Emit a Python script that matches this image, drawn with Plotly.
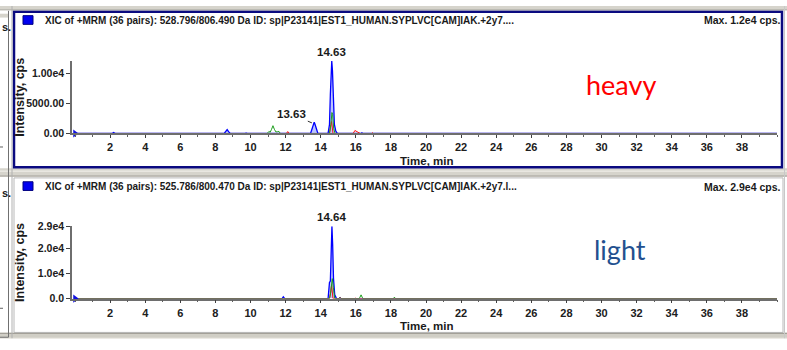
import plotly.graph_objects as go

W, H = 787, 350

# ---------------- data ----------------
x_tickvals = [2, 4, 6, 8, 10, 12, 14, 16, 18, 20, 22, 24, 26, 28, 30, 32, 34, 36, 38]
x_ticktext = [str(v) for v in x_tickvals]

heavy_y_tickvals = [0, 5000, 10000]
heavy_y_ticktext = ["0.00", "5000.00", "1.00e4"]
light_y_tickvals = [0, 10000, 20000, 29000]
light_y_ticktext = ["0.0", "1.0e4", "2.0e4", "2.9e4"]

heavy_blue_t = [0, 2.1, 2.2, 2.3, 8.5, 8.6, 8.67, 8.75, 8.85, 9.7, 9.75, 9.8, 10.2, 10.25, 10.3,
                13.42, 13.5, 13.58, 13.63, 13.68, 13.76, 13.84,
                14.42, 14.5, 14.55, 14.6, 14.63, 14.67, 14.72, 14.78, 14.86, 14.95,
                16.3, 16.35, 16.4, 17.8, 17.85, 17.9, 40]
heavy_blue_i = [0, 0, 150, 0, 0, 350, 650, 300, 0, 0, 90, 0, 0, 90, 0,
                0, 700, 1600, 1900, 1500, 600, 0,
                0, 1500, 6500, 11000, 12100, 10500, 5000, 1500, 400, 0,
                0, 120, 0, 0, 100, 0, 0]

heavy_green_t = [0, 9.5, 9.55, 9.6, 9.9, 9.95, 10.0, 10.95, 11.05, 11.12, 11.2, 11.28, 11.36, 11.45,
                 11.55, 11.62, 11.7, 14.5, 14.58, 14.64, 14.68, 14.74, 14.82,
                 15.4, 15.45, 15.5, 18.55, 18.6, 18.65, 19.0, 19.05, 19.1, 22.9, 22.95, 23.0, 40]
heavy_green_i = [0, 0, 90, 0, 0, 90, 0, 0, 350, 200, 700, 1300, 700, 250,
                 300, 350, 0, 0, 1500, 3500, 3200, 800, 0,
                 0, 100, 0, 0, 120, 0, 0, 120, 0, 0, 90, 0, 0]

heavy_red_t = [0, 12.05, 12.12, 12.2, 14.5, 14.56, 14.62, 14.7, 15.85, 15.95, 16.05, 16.15, 16.25,
               16.9, 16.95, 17.0, 18.7, 18.75, 18.8, 40]
heavy_red_i = [0, 0, 320, 0, 0, 1400, 2000, 0, 0, 500, 350, 250, 0,
               0, 120, 0, 0, 100, 0, 0]

light_blue_t = [0, 11.8, 11.87, 11.95, 14.42, 14.5, 14.55, 14.6, 14.64, 14.68, 14.73, 14.8, 14.9,
                15.05, 15.1, 15.15, 40]
light_blue_i = [0, 0, 700, 0, 0, 6500, 7000, 24000, 29000, 22000, 8000, 1500, 0,
                0, 400, 0, 0]

light_green_t = [0, 14.5, 14.56, 14.62, 14.66, 14.72, 14.8, 15.05, 15.1, 15.15, 16.2, 16.3, 16.4,
                 18.15, 18.2, 18.25, 18.95, 19.0, 19.05, 40]
light_green_i = [0, 0, 2000, 6000, 8000, 4500, 0, 0, 400, 0, 0, 1500, 0,
                 0, 600, 0, 0, 300, 0, 0]

light_red_t = [0, 12.15, 12.2, 12.25, 12.6, 12.65, 12.7, 14.5, 14.57, 14.62, 14.7,
               15.05, 15.1, 15.15, 15.95, 16.0, 16.05, 16.65, 16.7, 16.75, 40]
light_red_i = [0, 0, 300, 0, 0, 300, 0, 0, 2500, 5500, 0,
               0, 500, 0, 0, 200, 0, 0, 300, 0, 0]

heavy_title = "XIC of +MRM (36 pairs): 528.796/806.490 Da ID: sp|P23141|EST1_HUMAN.SYPLVC[CAM]IAK.+2y7...."
light_title = "XIC of +MRM (36 pairs): 525.786/800.470 Da ID: sp|P23141|EST1_HUMAN.SYPLVC[CAM]IAK.+2y7.l..."
heavy_max = "Max. 1.2e4 cps."
light_max = "Max. 2.9e4 cps."
heavy_peaks = [(14.63, "14.63")]
heavy_minor_peak = (13.55, 1700, "13.63")
light_peaks = [(14.64, "14.64")]

# ---------------- helpers ----------------
def px(x):
    return x / W

def py(y):
    return 1 - y / H

FONT = "Liberation Sans Narrow, Liberation Sans, Arial"
BLUE = "#0000FF"
GREEN = "#1E9E1E"
RED = "#FF1010"

fig = go.Figure()

def add_traces(xa, ya, bt, bi, gt, gi, rt, ri):
    fig.add_trace(go.Scatter(x=bt, y=bi, mode="lines", xaxis=xa, yaxis=ya,
                             line=dict(color=BLUE, width=1.3), fill="tozeroy",
                             fillcolor="rgba(120,140,255,0.5)", showlegend=False))
    fig.add_trace(go.Scatter(x=rt, y=ri, mode="lines", xaxis=xa, yaxis=ya,
                             line=dict(color=RED, width=1), showlegend=False))
    fig.add_trace(go.Scatter(x=gt, y=gi, mode="lines", xaxis=xa, yaxis=ya,
                             line=dict(color=GREEN, width=1), showlegend=False))
    fig.add_trace(go.Scatter(x=[0], y=[0], mode="markers", xaxis=xa, yaxis=ya,
                             marker=dict(symbol="triangle-right", size=7, color="#1010E0"),
                             cliponaxis=False, showlegend=False))

add_traces("x", "y", heavy_blue_t, heavy_blue_i, heavy_green_t, heavy_green_i, heavy_red_t, heavy_red_i)
add_traces("x2", "y2", light_blue_t, light_blue_i, light_green_t, light_green_i, light_red_t, light_red_i)

xtickfont = dict(family=FONT, size=11, color="#202020", weight="bold")
ytickfont = dict(family=FONT, size=10.5, color="#202020", weight="bold")

def xaxis_def(anchor):
    return dict(domain=[px(72), px(777)], range=[-0.171, 40], anchor=anchor,
                tickmode="array", tickvals=x_tickvals, ticktext=x_ticktext,
                ticks="outside", ticklen=3, tickcolor="#404040", tickwidth=1,
                minor=dict(dtick=1, tick0=0, ticks="outside", ticklen=2, tickcolor="#606060", showgrid=False),
                showline=True, linecolor="#6e6e6e", linewidth=1.5, showgrid=False, zeroline=False,
                tickfont=xtickfont, fixedrange=True)

def yaxis_def(anchor, ybot, ytop, rmax, tv, tt):
    return dict(domain=[py(ybot), py(ytop)], range=[0, rmax], anchor=anchor,
                tickmode="array", tickvals=tv, ticktext=tt,
                ticks="outside", ticklen=4, tickcolor="#404040", tickwidth=1,
                showline=True, linecolor="#6e6e6e", linewidth=1.5, showgrid=False, zeroline=False,
                tickfont=ytickfont, fixedrange=True)

fig.update_layout(
    width=W, height=H, margin=dict(l=0, r=0, t=0, b=0),
    paper_bgcolor="white", plot_bgcolor="rgba(0,0,0,0)",
    xaxis=xaxis_def("y"),
    yaxis=yaxis_def("x", 132, 57, 12100, heavy_y_tickvals, heavy_y_ticktext),
    xaxis2=xaxis_def("y2"),
    yaxis2=yaxis_def("x2", 303, 228, 29000, light_y_tickvals, light_y_ticktext),
)

shapes = []
def rect(x0, y0, x1, y1, fill=None, line=None, lw=0):
    shapes.append(dict(type="rect", xref="paper", yref="paper", x0=px(x0), x1=px(x1), y0=py(y1), y1=py(y0),
                       fillcolor=fill if fill else "rgba(0,0,0,0)",
                       line=dict(color=line if line else "rgba(0,0,0,0)", width=lw), layer="below"))
def hline(x0, x1, y, color, lw=1):
    shapes.append(dict(type="line", xref="paper", yref="paper", x0=px(x0), x1=px(x1), y0=py(y), y1=py(y),
                       line=dict(color=color, width=lw)))
def vline(x, y0, y1, color, lw=1):
    shapes.append(dict(type="line", xref="paper", yref="paper", x0=px(x), x1=px(x), y0=py(y0), y1=py(y1),
                       line=dict(color=color, width=lw)))

# window chrome
rect(0, 0, 787, 4, fill="#D6D4CC")
hline(0, 787, 4, "#A8A69E")
rect(0, 168, 787, 177, fill="#D6D4CC")
hline(0, 787, 171, "#F4F3EE")
hline(0, 787, 176, "#A8A69E")
rect(0, 338, 787, 344, fill="#D0CEC5")
hline(0, 787, 339, "#9C9A92")
hline(0, 787, 344, "#E8E6E0")
rect(0, 8, 8, 12, fill="#D6D4CC")
vline(8.5, 5, 343, "#707070")
vline(12, 0, 344, "#B0B0B0")
hline(0, 8.5, 343, "#707070")
hline(0, 3, 146, "#606060")
hline(0, 3, 313, "#606060")
vline(784.5, 0, 344, "#C8C8C8")
# panel borders
rect(14, 6, 782, 167, line="#0A0A80", lw=2.5)
rect(14, 178, 783, 338, line="#B8B8B8", lw=1)
# blue legend squares
rect(23, 10, 33, 19, fill="#0000F0", line="#000080", lw=1)
rect(23, 182, 33, 191, fill="#0000F0", line="#000080", lw=1)
fig.update_layout(shapes=shapes)

ann = []
def text(x, y, s, size=11, color="#1a1a1a", xanchor="left", family=FONT, bold=True, angle=0):
    ann.append(dict(xref="paper", yref="paper", x=px(x), y=py(y), text=s,
                    showarrow=False, xanchor=xanchor, yanchor="middle", textangle=angle,
                    font=dict(family=family, size=size, color=color,
                              weight="bold" if bold else "normal")))

text(43, 15, heavy_title, size=10)
text(783, 15, heavy_max, size=10.5, xanchor="right")
text(43, 187, light_title, size=10)
text(783, 187, light_max, size=10.5, xanchor="right")
text(20, 95, "Intensity, cps", size=12.5, xanchor="center", angle=-90)
text(20, 266, "Intensity, cps", size=12.5, xanchor="center", angle=-90)
text(426, 160, "Time, min", size=11.5, xanchor="center")
text(426, 331, "Time, min", size=11.5, xanchor="center")
text(0, 22, "s.", size=11, xanchor="left")
text(0, 194, "s.", size=11, xanchor="left")
text(621, 81, "heavy", size=27, color="#FF0000", xanchor="center", family="Lato", bold=False)
text(620, 252, "light", size=27, color="#23508F", xanchor="center", family="Lato", bold=False)

lblfont = dict(family=FONT, size=11.5, color="#1a1a1a", weight="bold")
for t, lab in heavy_peaks:
    ann.append(dict(xref="x", yref="y", x=t, y=12100, text=lab, showarrow=False,
                    yanchor="bottom", yshift=1, font=lblfont))
for t, lab in light_peaks:
    ann.append(dict(xref="x2", yref="y2", x=t, y=29000, text=lab, showarrow=False,
                    yanchor="bottom", yshift=1, font=lblfont))
mt, mi, ml = heavy_minor_peak
ann.append(dict(xref="x", yref="y", x=mt, y=mi, text=ml, showarrow=True, arrowhead=0,
                arrowwidth=1, arrowcolor="#303030", ax=-21, ay=-9, standoff=1, font=lblfont))
fig.update_layout(annotations=ann)

fig.write_html("out.html")
